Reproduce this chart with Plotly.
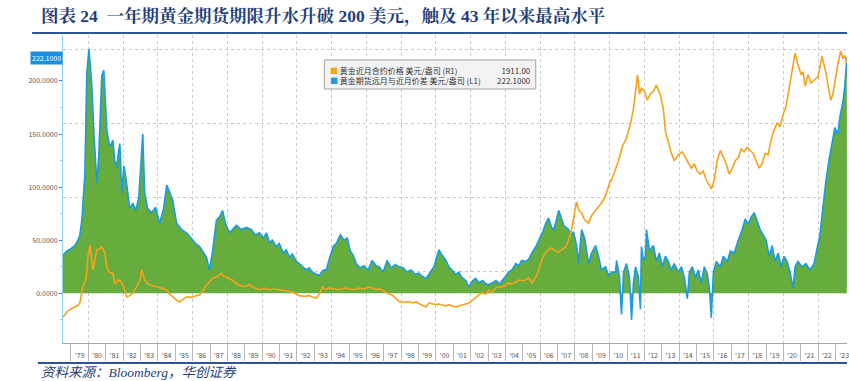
import plotly.graph_objects as go

# ---------------- data ----------------
spread_years = [
    1978.54, 1978.77, 1979.00, 1979.22, 1979.40, 1979.51, 1979.63, 1979.68, 1979.80, 1979.91,
    1980.03, 1980.11, 1980.20, 1980.32, 1980.49, 1980.60, 1980.72, 1980.77, 1980.89, 1980.98,
    1981.06, 1981.23, 1981.41, 1981.52, 1981.63, 1981.75, 1981.81, 1981.92, 1982.04, 1982.15,
    1982.27, 1982.38, 1982.56, 1982.73, 1982.90, 1983.01, 1983.13, 1983.24, 1983.41, 1983.64,
    1983.87, 1984.10, 1984.33, 1984.51, 1984.68, 1984.85, 1985.08, 1985.37, 1985.65, 1986.00,
    1986.23, 1986.40, 1986.63, 1986.80, 1986.97, 1987.15, 1987.37, 1987.55, 1987.72, 1987.89,
    1988.12, 1988.29, 1988.52, 1988.81, 1989.10, 1989.38, 1989.61, 1989.84, 1990.07, 1990.25,
    1990.42, 1990.59, 1990.82, 1990.99, 1991.22, 1991.39, 1991.57, 1991.74, 1991.97, 1992.14,
    1992.37, 1992.54, 1992.71, 1992.89, 1993.12, 1993.29, 1993.52, 1993.69, 1993.86, 1994.09,
    1994.27, 1994.50, 1994.72, 1994.90, 1995.07, 1995.24, 1995.41, 1995.64, 1995.87, 1996.10,
    1996.33, 1996.56, 1996.73, 1996.96, 1997.19, 1997.42, 1997.65, 1997.88, 1998.11, 1998.34,
    1998.57, 1998.80, 1999.03, 1999.20, 1999.43, 1999.60, 1999.78, 1999.89, 2000.06, 2000.18,
    2000.35, 2000.58, 2000.75, 2000.92, 2001.15, 2001.32, 2001.49, 2001.72, 2001.90, 2002.12,
    2002.30, 2002.47, 2002.70, 2002.87, 2003.04, 2003.27, 2003.45, 2003.68, 2003.85, 2004.02,
    2004.19, 2004.37, 2004.60, 2004.77, 2004.94, 2005.17, 2005.34, 2005.52, 2005.75, 2005.92,
    2006.15, 2006.32, 2006.49, 2006.66, 2006.78, 2006.95, 2007.07, 2007.24, 2007.35, 2007.52,
    2007.64, 2007.81, 2007.92, 2008.10, 2008.21, 2008.33, 2008.39, 2008.56, 2008.67, 2008.79,
    2008.96, 2009.19, 2009.36, 2009.53, 2009.76, 2009.94, 2010.11, 2010.34, 2010.40, 2010.57,
    2010.68, 2010.80, 2010.97, 2011.14, 2011.26, 2011.37, 2011.49, 2011.66, 2011.77, 2011.83,
    2011.94, 2012.06, 2012.12, 2012.29, 2012.52, 2012.69, 2012.86, 2013.03, 2013.21, 2013.38,
    2013.55, 2013.72, 2013.95, 2014.13, 2014.30, 2014.47, 2014.59, 2014.76, 2014.93, 2015.10,
    2015.28, 2015.45, 2015.62, 2015.74, 2015.85, 2015.97, 2016.14, 2016.37, 2016.54, 2016.77,
    2016.95, 2017.17, 2017.40, 2017.63, 2017.80, 2017.97, 2018.15, 2018.32, 2018.49, 2018.66,
    2018.84, 2019.01, 2019.18, 2019.35, 2019.52, 2019.70, 2019.87, 2020.04, 2020.21, 2020.38,
    2020.56, 2020.67, 2020.84, 2021.07, 2021.30, 2021.53, 2021.76, 2021.93, 2022.10, 2022.27,
    2022.44, 2022.62, 2022.79, 2022.96, 2023.13, 2023.25, 2023.42, 2023.53, 2023.65,
]
spread_values = [
    36, 40, 42, 45, 50, 55, 70, 81, 113, 207,
    230, 215, 195, 150, 104, 130, 180, 205, 210, 180,
    154, 138, 144, 125, 119, 135, 141, 94, 120, 110,
    95, 80, 85, 78, 90, 125, 150, 95, 80, 76,
    81, 66, 80, 102, 95, 88, 66, 60, 57, 50,
    46, 44, 38, 34, 22, 40, 69, 72, 78, 66,
    57, 60, 64, 60, 62, 60, 55, 57, 52, 57,
    48, 50, 44, 47, 38, 41, 34, 37, 30, 28,
    24, 22, 24, 20, 18, 17, 22, 22, 32, 44,
    47, 55, 50, 52, 40, 36, 28, 24, 26, 22,
    31, 26, 25, 20, 31, 24, 27, 25, 24, 20,
    22, 18, 19, 16, 14, 18, 22, 25, 35, 41,
    36, 31, 25, 22, 18, 20, 15, 12, 6, 12,
    14, 10, 12, 9, 8, 10, 12, 9, 13, 16,
    20, 22, 28, 26, 31, 30, 32, 38, 44, 50,
    58, 66, 71, 62, 60, 70, 78, 70, 64, 62,
    60, 55, 58, 45, 28, 50, 60, 52, 40, 28,
    38, 45, 35, 22, 25, 17, 20, 20, 31, 15,
    -20, 20, 28, 15, -25, 10, 25, 15, -15, 44,
    31, 35, 60, 40, 45, 30, 38, 25, 35, 30,
    22, 28, 20, 25, 15, -5, 20, 25, 15, 22,
    10, 25, 18, 5, -23, 20, 30, 25, 35, 30,
    40, 38, 50, 60, 70, 65, 72, 76, 68, 60,
    55, 50, 35, 45, 30, 38, 25, 35, 30, 20,
    5, 25, 30, 25, 28, 22, 28, 40, 55, 80,
    105, 125, 140, 156, 150, 166, 180, 194, 222.1,
]

gold_years = [
    1978.54, 1978.77, 1979.00, 1979.22, 1979.40, 1979.51, 1979.68, 1979.86, 1979.97, 1980.09,
    1980.20, 1980.26, 1980.37, 1980.49, 1980.66, 1980.77, 1980.95, 1981.06, 1981.23, 1981.41,
    1981.52, 1981.69, 1981.81, 1982.04, 1982.21, 1982.38, 1982.56, 1982.79, 1982.96, 1983.07,
    1983.24, 1983.41, 1983.64, 1983.93, 1984.10, 1984.33, 1984.51, 1984.68, 1984.85, 1985.08,
    1985.25, 1985.48, 1985.65, 1985.83, 1986.00, 1986.23, 1986.40, 1986.63, 1986.80, 1987.03,
    1987.20, 1987.37, 1987.55, 1987.66, 1987.78, 1987.95, 1988.12, 1988.29, 1988.52, 1988.70,
    1988.98, 1989.27, 1989.44, 1989.67, 1989.84, 1990.13, 1990.42, 1990.70, 1990.99, 1991.28,
    1991.57, 1991.74, 1991.97, 1992.14, 1992.43, 1992.71, 1992.89, 1993.12, 1993.29, 1993.46,
    1993.63, 1993.86, 1994.15, 1994.44, 1994.72, 1995.01, 1995.30, 1995.58, 1995.87, 1996.16,
    1996.39, 1996.56, 1996.73, 1996.90, 1997.13, 1997.31, 1997.48, 1997.71, 1997.88, 1998.17,
    1998.45, 1998.68, 1998.86, 1999.03, 1999.26, 1999.43, 1999.60, 1999.78, 2000.01, 2000.18,
    2000.41, 2000.58, 2000.75, 2000.98, 2001.15, 2001.32, 2001.49, 2001.72, 2001.90, 2002.12,
    2002.30, 2002.47, 2002.64, 2002.87, 2003.04, 2003.22, 2003.45, 2003.62, 2003.79, 2004.02,
    2004.19, 2004.37, 2004.60, 2004.77, 2005.00, 2005.17, 2005.34, 2005.52, 2005.75, 2005.92,
    2006.09, 2006.32, 2006.49, 2006.66, 2006.89, 2007.07, 2007.24, 2007.47, 2007.64, 2007.81,
    2007.98, 2008.10, 2008.21, 2008.39, 2008.56, 2008.79, 2008.96, 2009.19, 2009.36, 2009.53,
    2009.71, 2009.82, 2009.99, 2010.11, 2010.28, 2010.51, 2010.74, 2010.97, 2011.20, 2011.37,
    2011.60, 2011.72, 2011.83, 2012.00, 2012.17, 2012.34, 2012.52, 2012.69, 2012.92, 2013.09,
    2013.21, 2013.38, 2013.55, 2013.72, 2013.95, 2014.18, 2014.36, 2014.53, 2014.70, 2014.87,
    2015.04, 2015.22, 2015.39, 2015.56, 2015.73, 2015.85, 2016.02, 2016.19, 2016.37, 2016.54,
    2016.71, 2016.88, 2017.06, 2017.23, 2017.40, 2017.57, 2017.74, 2017.92, 2018.09, 2018.26,
    2018.43, 2018.60, 2018.78, 2018.95, 2019.12, 2019.29, 2019.47, 2019.64, 2019.81, 2019.98,
    2020.16, 2020.33, 2020.50, 2020.67, 2020.84, 2021.02, 2021.13, 2021.25, 2021.42, 2021.59,
    2021.82, 2021.99, 2022.10, 2022.22, 2022.33, 2022.44, 2022.62, 2022.73, 2022.85, 2022.96,
    2023.13, 2023.30, 2023.42, 2023.53, 2023.65,
]
gold_values = [
    196, 230, 250, 263, 275, 290, 398, 445, 600, 681,
    560, 513, 580, 648, 655, 668, 627, 533, 492, 492,
    420, 440, 445, 400, 331, 340, 358, 400, 445, 513,
    445, 420, 410, 398, 390, 385, 378, 350, 331, 310,
    297, 320, 331, 330, 331, 340, 344, 380, 412, 440,
    460, 465, 480, 492, 470, 465, 450, 445, 420, 410,
    400, 415, 398, 385, 380, 390, 378, 385, 378, 370,
    364, 364, 350, 340, 335, 340, 331, 324, 350, 398,
    380, 391, 385, 380, 391, 385, 380, 391, 385, 398,
    390, 378, 385, 378, 360, 350, 344, 320, 300, 295,
    300, 290, 297, 285, 270, 263, 290, 285, 280, 283,
    275, 270, 277, 268, 263, 270, 277, 285, 290, 310,
    331, 345, 358, 350, 378, 358, 391, 400, 398, 410,
    425, 420, 432, 445, 440, 445, 460, 425, 465, 513,
    580, 634, 650, 661, 640, 634, 650, 668, 715, 783,
    900, 972, 920, 897, 850, 830, 880, 918, 940, 965,
    1000, 1032, 1100, 1120, 1180, 1250, 1350, 1400, 1500, 1600,
    1829, 1700, 1740, 1720, 1660, 1700, 1720, 1761, 1694, 1600,
    1450, 1380, 1300, 1250, 1290, 1310, 1270, 1230, 1200, 1230,
    1180, 1160, 1180, 1120, 1080, 1060, 1120, 1250, 1320, 1280,
    1230, 1160, 1200, 1250, 1270, 1330, 1310, 1340, 1320, 1300,
    1250, 1200, 1230, 1300, 1290, 1390, 1460, 1505, 1480, 1560,
    1620, 1730, 1850, 1977, 1896, 1830, 1850, 1754, 1830, 1775,
    1800, 1815, 1880, 1957, 1900, 1850, 1720, 1660, 1700, 1780,
    1900, 1990, 1940, 1960, 1911,
]

year_ticks = list(range(1979, 2024))
year_labels = ["'" + str(y)[2:] for y in year_ticks]
left_ticks = [0, 50, 100, 150, 200]

gold_name = "黄金近月合约价格 美元/盎司 (R1)"
spread_name = "黄金期货远月与近月价差 美元/盎司 (L1)"
gold_last = "1911.00"
spread_last = "222.1000"

title_text = "图表 24  一年期黄金期货期限升水升破 200 美元，触及 43 年以来最高水平"
source_text = "资料来源：Bloomberg，华创证券"

# ---------------- styles ----------------
BLUE = "#1a9be3"
GREEN = "#66ad3d"
ORANGE = "#f7a21b"
NAVY = "#1f3f7a"
X_RANGE = [1978.54, 2023.66]

fig = go.Figure()
fig.add_trace(go.Scatter(
    x=spread_years, y=spread_values, mode="lines", name=spread_name,
    line=dict(color=BLUE, width=1.6), fill="tozeroy", fillcolor=GREEN,
    yaxis="y", xaxis="x", showlegend=False,
))
fig.add_trace(go.Scatter(
    x=gold_years, y=gold_values, mode="lines", name=gold_name,
    line=dict(color=ORANGE, width=1.6), yaxis="y2", xaxis="x", showlegend=False,
))
# empty helper trace so that the 2-year grid axis is drawn
fig.add_trace(go.Scatter(x=[], y=[], xaxis="x2", yaxis="y", showlegend=False))

legend_names = "<br>".join([
    f'<span style="color:{ORANGE}">■</span> {gold_name}',
    f'<span style="color:{BLUE}">■</span> {spread_name}',
])
legend_values = "<br>".join([gold_last, spread_last])

fig.update_layout(
    width=849, height=381,
    margin=dict(l=63, r=0, t=35, b=38),
    paper_bgcolor="white", plot_bgcolor="white",
    font=dict(family="Noto Sans CJK SC, Noto Sans, sans-serif", color="#555"),
    xaxis=dict(
        range=X_RANGE, showgrid=False, zeroline=False,
        tickmode="array", tickvals=[y + 0.5 for y in year_ticks], ticktext=year_labels,
        ticks="outside", ticklen=6, tickcolor="rgba(0,0,0,0)",
        tickfont=dict(size=7, color="#555"), ticklabeloverflow="allow",
        showline=True, linecolor="#a8a8a8", linewidth=1,
        minor=dict(tickmode="linear", tick0=1979, dtick=1, ticks="outside",
                   ticklen=17, tickcolor="#b8b8b8", tickwidth=1, showgrid=False),
    ),
    xaxis2=dict(
        range=X_RANGE, overlaying="x", side="top", showgrid=True,
        gridcolor="#c9c9c9", griddash="dot", gridwidth=1,
        tickmode="linear", tick0=1980, dtick=2, showticklabels=False, ticks="",
        zeroline=False, showline=False,
    ),
    yaxis=dict(
        range=[-46.8, 243.3], showgrid=False, zeroline=False,
        tickmode="array", tickvals=left_ticks, ticktext=[f"{v:.4f}" for v in left_ticks],
        ticks="outside", ticklen=3, tickcolor=BLUE, tickwidth=1,
        tickfont=dict(size=7, color="#555"),
        showline=True, linecolor="#8fd0ee", linewidth=1,
        minor=dict(tickmode="linear", tick0=25, dtick=50, ticks="outside",
                   ticklen=2, tickcolor="#8fd0ee", showgrid=False),
    ),
    yaxis2=dict(
        range=[20.2, 2098.6], overlaying="y", side="right", showgrid=True,
        gridcolor="#c9c9c9", griddash="dot", gridwidth=1,
        tickmode="linear", tick0=0, dtick=500, showticklabels=False, ticks="",
        zeroline=False, showline=False,
    ),
    shapes=[
        dict(type="line", xref="paper", yref="paper", x0=-0.0394, x1=1.0, y0=1.0065, y1=1.0065,
             line=dict(color="#2b5597", width=2)),
        dict(type="line", xref="paper", yref="paper", x0=-0.032, x1=1.0, y0=-0.065, y1=-0.065,
             line=dict(color="#2b5597", width=2)),
        dict(type="rect", xref="paper", yref="paper", x0=0.3333, x1=0.603, y0=0.8247, y1=0.919,
             fillcolor="#f3f3f3", line=dict(color="#a0a0a0", width=1)),
    ],
    annotations=[
        dict(text=f"<b>{title_text}</b>", xref="paper", yref="paper", x=-0.031, y=1.059,
             xanchor="left", yanchor="middle", showarrow=False,
             font=dict(family="Liberation Serif, Noto Serif CJK SC, Noto Sans CJK SC", size=17.5, color=NAVY)),
        dict(text=f"<i>{source_text}</i>", xref="paper", yref="paper", x=-0.031, y=-0.097,
             xanchor="left", yanchor="middle", showarrow=False,
             font=dict(family="Liberation Serif, Noto Sans CJK SC", size=13.5, color=NAVY)),
        dict(text=legend_names, xref="paper", yref="paper", align="left",
             x=0.338, y=0.870, xanchor="left", yanchor="middle", showarrow=False,
             font=dict(size=8, color="#333")),
        dict(text=legend_values, xref="paper", yref="paper", align="right",
             x=0.599, y=0.870, xanchor="right", yanchor="middle", showarrow=False,
             font=dict(size=8, color="#333")),
        dict(text=spread_last, xref="paper", yref="y", x=0, y=spread_values[-1], xanchor="right",
             yanchor="middle", showarrow=False, bgcolor="#1d8fe1", borderpad=1,
             font=dict(size=7, color="white")),
    ],
)

fig.write_html(
    "out.html",
    config={"displayModeBar": False},
    post_script="document.body.style.margin='0';document.documentElement.style.overflow='hidden';",
)
